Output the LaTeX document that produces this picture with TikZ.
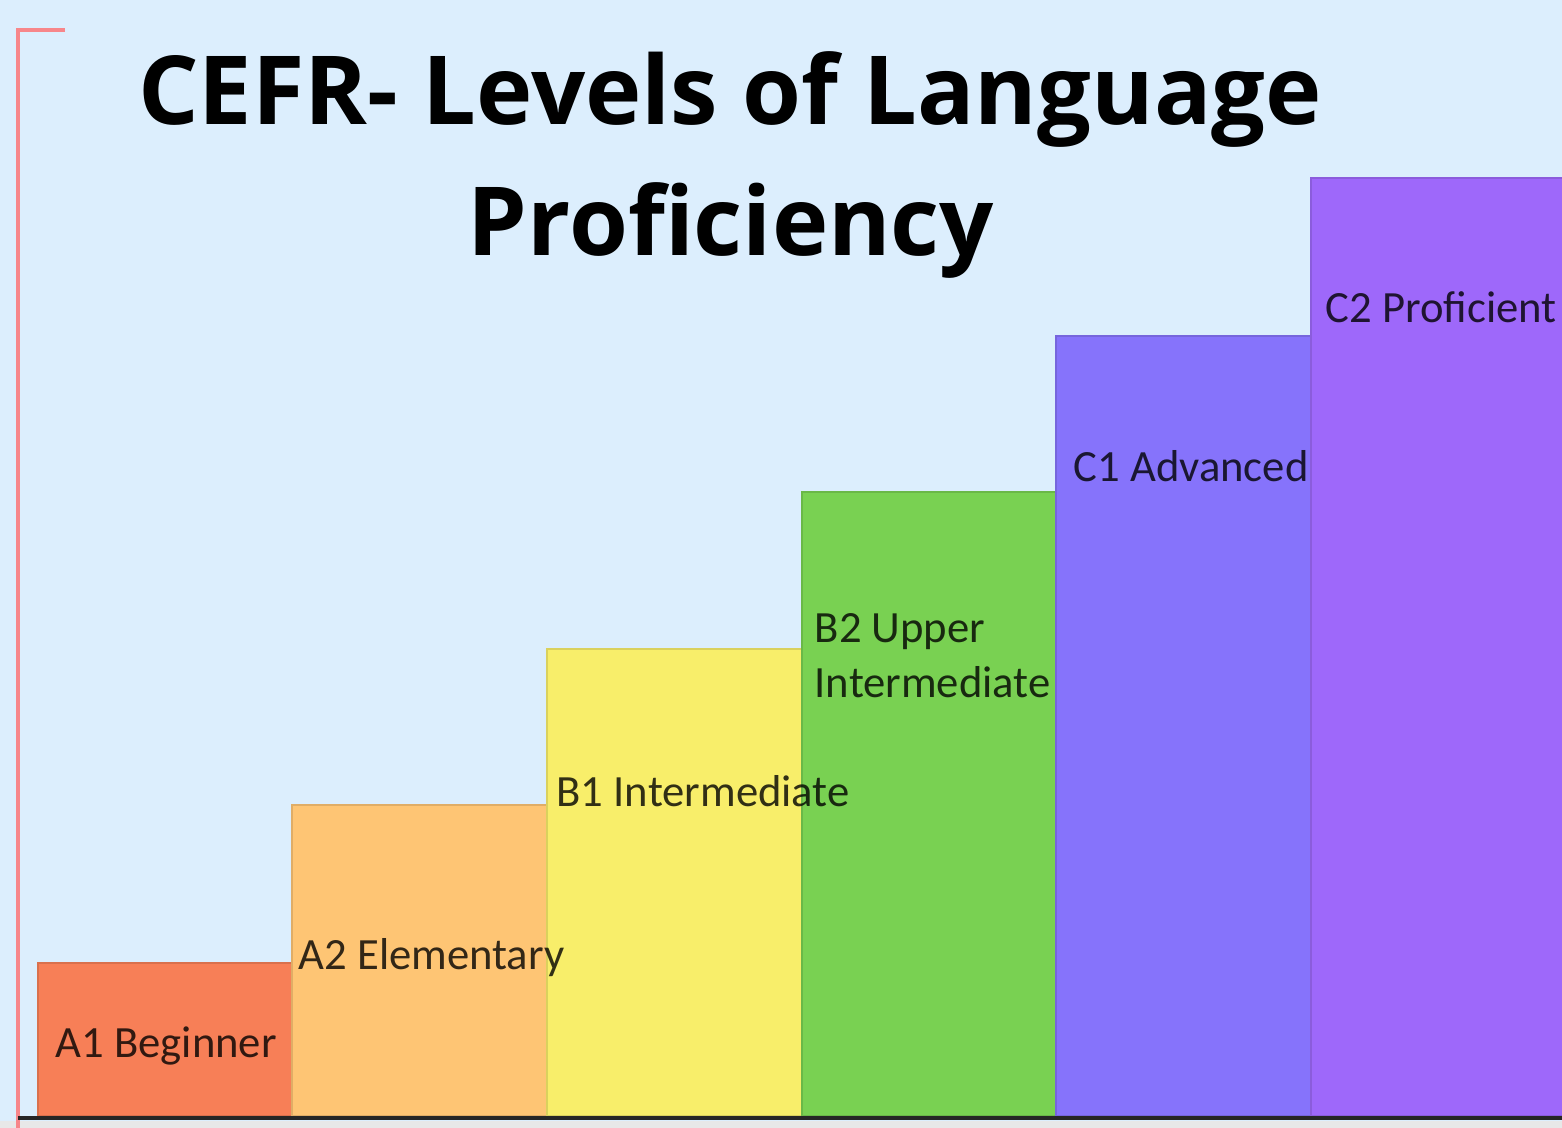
\documentclass[tikz,border=0pt]{standalone}
\usepackage{fontspec}
\setmainfont{Open Sans}
\newfontfamily\labelfont{Carlito}
\usepackage{xcolor}
\usetikzlibrary{positioning}

\definecolor{skybg}{HTML}{DCEEFD}
\definecolor{axisred}{HTML}{F7868A}
\definecolor{colAone}{HTML}{F77F57}
\definecolor{colAtwo}{HTML}{FEC574}
\definecolor{colBone}{HTML}{F8EE6A}
\definecolor{colBtwo}{HTML}{79D152}
\definecolor{colCone}{HTML}{8673FB}
\definecolor{colCtwo}{HTML}{9E68FA}

\tikzset{
  bar/.style={fill=#1, draw=#1!88!black, line width=0.7pt},
  level/.style={font=\labelfont\fontsize{12.7}{15}\selectfont, anchor=base west,
    inner sep=0pt, text=black, text opacity=0.8},
  heading/.style={font=\bfseries\fontsize{27.1}{33}\selectfont, anchor=base, inner sep=0pt}
}

\begin{document}
\begin{tikzpicture}[x=0.01cm, y=-0.01cm]
% canvas
\fill[skybg] (0,0) rectangle (1562,1128);
\useasboundingbox (0,0) rectangle (1562,1128);
\fill[black!9] (0,1121) rectangle (1562,1128);

% title
\node[heading] (title1) at (730,125) {CEFR- Levels of Language};
\node[heading] (title2) at (731,256) {Proficiency};

% bars
\draw[bar=colAone] (38,1116) rectangle (292,963);
\draw[bar=colAtwo] (292,1116) rectangle (547,805);
\draw[bar=colBone] (547,1116) rectangle (802,649);
\draw[bar=colBtwo] (802,1116) rectangle (1056,492);
\draw[bar=colCone] (1056,1116) rectangle (1311,336);
\draw[bar=colCtwo] (1311,1116) rectangle (1566,178);

% level labels
\node[level] (A1) at (55,1058) {A1 Beginner};
\node[level] (A2) at (298,970) {A2 Elementary};
\node[level] (B1) at (556,807) {B1 Intermediate};
\node[level] (B2) at (814,643) {B2 Upper};
\node[level] (B2b) at (814,698) {Intermediate};
\node[level] (C1) at (1073,482) {C1 Advanced};
\node[level] (C2) at (1325,323) {C2 Proficient};

% axes
\coordinate (origin) at (18,1118);
\coordinate (ytop) at (18,30);
\coordinate (ytick) at (65,30);
\coordinate (xend) at (1562,1118);
\draw[axisred, line width=1pt] (ytick) -- (ytop) -- (18,1128);
\draw[black!85, line width=1.2pt] (origin) -- (xend);
\end{tikzpicture}
\end{document}
